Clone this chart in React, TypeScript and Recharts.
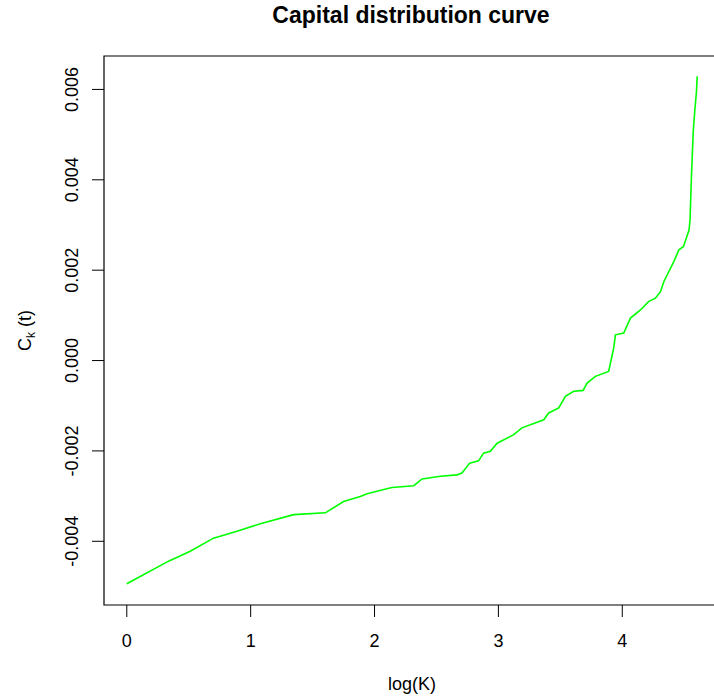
import React from 'react';
import { LineChart, Line, XAxis, YAxis, ReferenceArea, Label } from 'recharts';

// log(K)
const logK = [
  0, 0.337, 0.512, 0.7, 0.889, 1.078, 1.347, 1.603, 1.75, 1.885, 1.94, 2.14, 2.317, 2.384,
  2.531, 2.666, 2.706, 2.768, 2.84, 2.88, 2.935, 2.99, 3.124, 3.19, 3.366, 3.406, 3.487,
  3.541, 3.608, 3.684, 3.716, 3.783, 3.89, 3.931, 3.945, 4.012, 4.066, 4.147, 4.214, 4.268,
  4.309, 4.336, 4.416, 4.457, 4.493, 4.512, 4.539, 4.547, 4.559, 4.573, 4.586, 4.599, 4.605,
];

// C_k(t)
const capital = [
  -0.00494, -0.00444, -0.00422, -0.00393, -0.00378, -0.00361, -0.00341, -0.00337, -0.00312,
  -0.00301, -0.00295, -0.00281, -0.00277, -0.00262, -0.00256, -0.00253, -0.00249, -0.00227,
  -0.00222, -0.00205, -0.00201, -0.00183, -0.00164, -0.00149, -0.00131, -0.00116, -0.00105,
  -0.00079, -0.00068, -0.00066, -0.0005, -0.00035, -0.00024, 0.00028, 0.00057, 0.00061,
  0.00094, 0.00112, 0.00131, 0.00138, 0.00153, 0.00175, 0.00219, 0.00245, 0.00252, 0.00267,
  0.00289, 0.00311, 0.00411, 0.00507, 0.00555, 0.00595, 0.00629,
];

const xTicks = [0, 1, 2, 3, 4];
const yTicks = [-0.004, -0.002, 0, 0.002, 0.004, 0.006];

// R style 4% padding around the data range
const xDomain: [number, number] = [-0.184, 4.789];
const yDomain: [number, number] = [-0.00541, 0.00674];

const data = logK.map((x, i) => ({ x, c: capital[i] }));

const FONT = '"Liberation Sans", Arial, sans-serif';

const XTick = ({ x, payload }: any) => (
  <text x={x} y={647} textAnchor="middle" fontSize={18} fontFamily={FONT} fill="#000">
    {payload.value}
  </text>
);

const YTick = ({ y, payload }: any) => (
  <text
    x={78}
    y={y}
    transform={`rotate(-90, 78, ${y})`}
    textAnchor="middle"
    fontSize={18}
    fontFamily={FONT}
    fill="#000"
  >
    {Number(payload.value).toFixed(3)}
  </text>
);

export default function App() {
  return (
    <div style={{ position: 'absolute', left: 0, top: 0, width: 714, height: 698, overflow: 'hidden', background: '#fff' }}>
      <div
        style={{
          position: 'absolute',
          left: 411,
          top: 4,
          transform: 'translateX(-50%)',
          whiteSpace: 'nowrap',
          fontFamily: FONT,
          fontWeight: 'bold',
          fontSize: 23,
          lineHeight: '23px',
          color: '#000',
        }}
      >
        Capital distribution curve
      </div>
      <LineChart width={714} height={698} data={data} margin={{ top: 56, right: -6, bottom: 0, left: 0 }}>
        <XAxis
          dataKey="x"
          type="number"
          domain={xDomain}
          ticks={xTicks}
          allowDataOverflow
          height={93}
          axisLine={false}
          tickSize={12}
          tickLine={{ stroke: '#000' }}
          tick={<XTick />}
        >
          <Label
            content={({ viewBox }: any) => (
              <text
                x={viewBox.x + viewBox.width / 2}
                y={690}
                textAnchor="middle"
                fontSize={18}
                fontFamily={FONT}
                fill="#000"
              >
                log(K)
              </text>
            )}
          />
        </XAxis>
        <YAxis
          type="number"
          domain={yDomain}
          ticks={yTicks}
          allowDataOverflow
          width={104}
          axisLine={false}
          tickSize={12}
          tickLine={{ stroke: '#000' }}
          tick={<YTick />}
        >
          <Label
            content={({ viewBox }: any) => {
              const cy = viewBox.y + viewBox.height / 2;
              return (
                <text
                  x={31}
                  y={cy}
                  transform={`rotate(-90, 31, ${cy})`}
                  textAnchor="middle"
                  fontSize={18}
                  fontFamily={FONT}
                  fill="#000"
                >
                  C<tspan fontSize={12} dy={4}>k</tspan>
                  <tspan dy={-4}> (t)</tspan>
                </text>
              );
            }}
          />
        </YAxis>
        <ReferenceArea
          x1={xDomain[0]}
          x2={xDomain[1]}
          y1={yDomain[0]}
          y2={yDomain[1]}
          fill="none"
          stroke="#000"
          strokeWidth={1.2}
          ifOverflow="visible"
        />
        <Line
          type="linear"
          dataKey="c"
          stroke="#00ff00"
          strokeWidth={1.6}
          dot={false}
          isAnimationActive={false}
        />
      </LineChart>
    </div>
  );
}
